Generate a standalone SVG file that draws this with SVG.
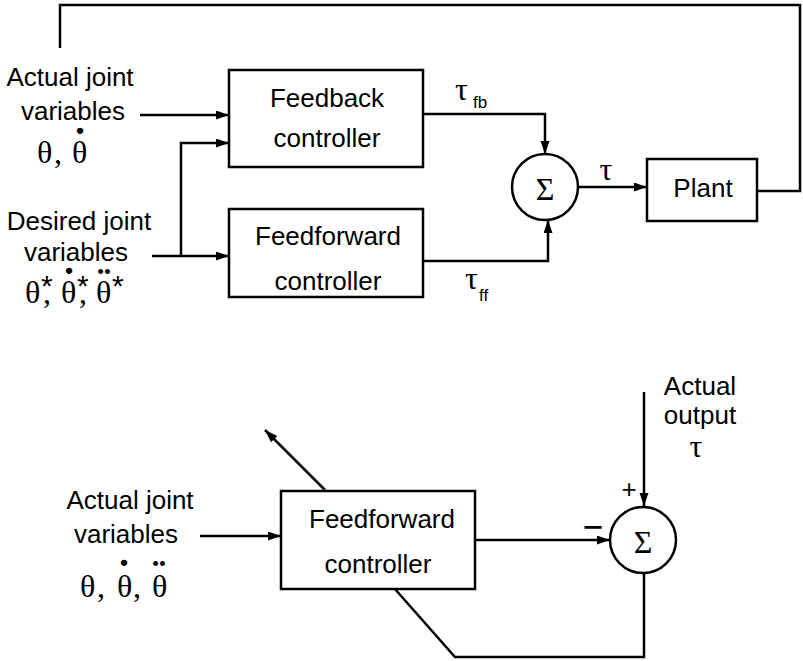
<svg xmlns="http://www.w3.org/2000/svg" width="803" height="661" viewBox="0 0 803 661">
<defs>
<style>
.ln{fill:none;stroke:#000;stroke-width:2.5}
.box{fill:#fff;stroke:#000;stroke-width:2.5}
.t{font-family:"Liberation Sans",Arial,sans-serif;font-size:26px;fill:#000}
.g{font-family:"Liberation Serif","Times New Roman",serif;font-size:32px;fill:#000}
.sub{font-family:"Liberation Sans",Arial,sans-serif;font-size:17px}
.ast{font-family:"Liberation Sans",Arial,sans-serif;font-size:30px}
.dot{font-family:"Liberation Serif","Times New Roman",serif;font-size:42px;font-weight:bold}
.ar{marker-end:url(#ah)}
</style>
<marker id="ah" markerUnits="userSpaceOnUse" markerWidth="14" markerHeight="10" refX="13" refY="4.5" orient="auto">
<path d="M0,0 L13,4.5 L0,9 z" fill="#000"/>
</marker>
</defs>
<rect width="803" height="661" fill="#fff"/>

<g id="connectors">
<path class="ln" d="M757,191 H800 V5 H60 V48"/>
<path class="ln ar" d="M140,115 H229"/>
<path class="ln ar" d="M152,256 H229"/>
<path class="ln ar" d="M181,256 V143 H229"/>
<path class="ln ar" d="M423,114 H545 V154"/>
<path class="ln ar" d="M423,261 H548 V220"/>
<path class="ln ar" d="M578,187 H647"/>
<path class="ln ar" d="M200,536 H281"/>
<path class="ln ar" d="M475,540 H610"/>
<path class="ln ar" d="M644,392 V506"/>
<path class="ln" d="M644,573 V657 H455 L387,580"/>
<path class="ln ar" d="M325,490 L265,430"/>
</g>

<g id="label-actual-top">
<text class="t" x="70" y="86" text-anchor="middle">Actual joint</text>
<text class="t" x="73" y="120" text-anchor="middle">variables</text>
<text class="g" x="37" y="163">θ<tspan x="54">,</tspan><tspan x="72">θ</tspan><tspan class="dot" x="80" y="157" text-anchor="middle">˙</tspan></text>
</g>

<g id="label-desired">
<text class="t" x="79" y="230" text-anchor="middle">Desired joint</text>
<text class="t" x="76" y="261" text-anchor="middle">variables</text>
<text class="g" x="25" y="303">θ<tspan class="ast" x="41" y="296">*</tspan><tspan x="43" y="303">,</tspan><tspan x="61">θ</tspan><tspan class="dot" x="69" y="297" text-anchor="middle">˙</tspan><tspan class="ast" x="77" y="296">*</tspan><tspan x="79" y="303">,</tspan><tspan x="96">θ</tspan><tspan class="dot" x="104" y="297" text-anchor="middle">¨</tspan><tspan class="ast" x="112" y="296">*</tspan></text>
</g>

<g id="feedback-controller">
<rect class="box" x="229" y="70" width="194" height="97"/>
<text class="t" x="327" y="107" text-anchor="middle">Feedback</text>
<text class="t" x="327" y="147" text-anchor="middle">controller</text>
</g>

<g id="feedforward-controller">
<rect class="box" x="229" y="209" width="194" height="88"/>
<text class="t" x="328" y="245" text-anchor="middle">Feedforward</text>
<text class="t" x="328" y="290" text-anchor="middle">controller</text>
</g>

<g id="tau-fb">
<text class="g" x="455" y="100">τ<tspan class="sub" x="473" y="108">fb</tspan></text>
</g>
<g id="tau-ff">
<text class="g" x="465" y="289">τ<tspan class="sub" x="479" y="301">ff</tspan></text>
</g>

<g id="sum-top">
<circle class="box" cx="545" cy="187" r="33"/>
<text class="g" x="545" y="200" text-anchor="middle">Σ</text>
</g>
<g id="tau-label">
<text class="g" x="606" y="180" text-anchor="middle">τ</text>
</g>

<g id="plant">
<rect class="box" x="647" y="159" width="110" height="62"/>
<text class="t" x="703" y="197" text-anchor="middle">Plant</text>
</g>

<g id="label-actual-bottom">
<text class="t" x="130" y="509" text-anchor="middle">Actual joint</text>
<text class="t" x="126" y="543" text-anchor="middle">variables</text>
<text class="g" x="80" y="597">θ<tspan x="97">,</tspan><tspan x="117">θ</tspan><tspan class="dot" x="124" y="589" text-anchor="middle">˙</tspan><tspan x="133" y="597">,</tspan><tspan x="152">θ</tspan><tspan class="dot" x="159" y="589" text-anchor="middle">¨</tspan></text>
</g>

<g id="feedforward-controller-2">
<rect class="box" x="281" y="491" width="194" height="98"/>
<text class="t" x="382" y="528" text-anchor="middle">Feedforward</text>
<text class="t" x="378" y="573" text-anchor="middle">controller</text>
</g>

<g id="sum-bottom">
<circle class="box" cx="643" cy="540" r="33"/>
<text class="g" x="643" y="553" text-anchor="middle">Σ</text>
<text class="t" x="629" y="498" text-anchor="middle" font-size="32">+</text>
<text class="t" x="583" y="536" font-size="40" font-weight="bold" textLength="20" lengthAdjust="spacingAndGlyphs">−</text>
</g>

<g id="label-actual-output">
<text class="t" x="700" y="395" text-anchor="middle">Actual</text>
<text class="t" x="700" y="424" text-anchor="middle">output</text>
<text class="g" x="696" y="457" text-anchor="middle">τ</text>
</g>
</svg>
